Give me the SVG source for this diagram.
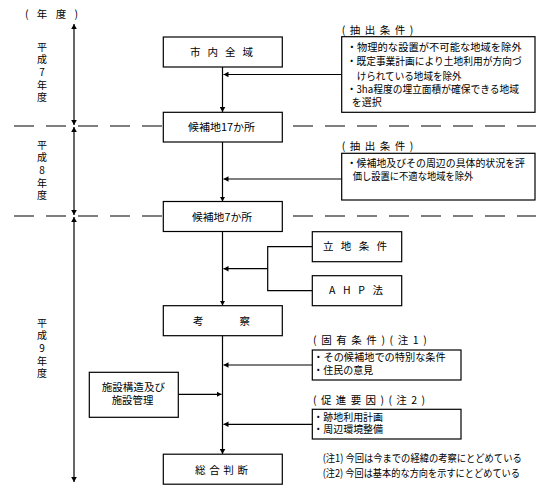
<svg xmlns="http://www.w3.org/2000/svg" width="560" height="499" viewBox="0 0 560 499">
<style>
text{font-family:"Noto Sans CJK JP","Noto Sans CJK SC",sans-serif;font-size:10.5px;fill:#000}
.y{font-size:10px;writing-mode:vertical-rl;text-orientation:upright;letter-spacing:2.6px}
.box{fill:#fff;stroke:#000;stroke-width:1.2}
.ln{fill:none;stroke:#000;stroke-width:1.2}
.dash{fill:none;stroke:#000;stroke-width:1.2;stroke-dasharray:20 12}
</style>
<defs>
<marker id="ae" markerUnits="userSpaceOnUse" markerWidth="6" markerHeight="6" refX="5" refY="3" orient="auto"><path d="M0,0.2 L5,3 L0,5.8 Z" fill="#000"/></marker>
<marker id="as" markerUnits="userSpaceOnUse" markerWidth="6" markerHeight="6" refX="0" refY="3" orient="auto"><path d="M5,0.2 L0,3 L5,5.8 Z" fill="#000"/></marker>
</defs>
<rect width="560" height="499" fill="#fff"/>
<g id="axis">
<text x="25" y="18" textLength="53" lengthAdjust="spacing">(年度)</text>
<line class="ln" x1="74" y1="24" x2="74" y2="125" marker-start="url(#as)" marker-end="url(#ae)"/>
<line class="ln" x1="74" y1="127" x2="74" y2="215" marker-start="url(#as)" marker-end="url(#ae)"/>
<line class="ln" x1="74" y1="217" x2="74" y2="482" marker-start="url(#as)" marker-end="url(#ae)"/>
<text x="42" y="42" class="y">平成7年度</text>
<text x="42" y="140" class="y">平成8年度</text>
<text x="42" y="318" class="y">平成9年度</text>
</g>
<g id="dividers">
<line class="dash" x1="14" y1="126" x2="163" y2="126"/>
<line class="dash" x1="293" y1="126" x2="536" y2="126"/>
<line class="dash" x1="14" y1="216" x2="163" y2="216"/>
<line class="dash" x1="293" y1="216" x2="536" y2="216"/>
</g>
<g id="connectors">
<line class="ln" x1="222.5" y1="67" x2="222.5" y2="112" marker-end="url(#ae)"/>
<line class="ln" x1="222.5" y1="142" x2="222.5" y2="201.5" marker-end="url(#ae)"/>
<line class="ln" x1="222.5" y1="231.5" x2="222.5" y2="305.5" marker-end="url(#ae)"/>
<line class="ln" x1="222.5" y1="335.5" x2="222.5" y2="454" marker-end="url(#ae)"/>
<line class="ln" x1="341.7" y1="74.5" x2="223.5" y2="74.5" marker-end="url(#ae)"/>
<line class="ln" x1="341.7" y1="179" x2="223.5" y2="179" marker-end="url(#ae)"/>
<line class="ln" x1="267.7" y1="268.7" x2="223.5" y2="268.7" marker-end="url(#ae)"/>
<polyline class="ln" points="312.3,246.7 267.7,246.7 267.7,290.7 312.3,290.7"/>
<line class="ln" x1="312.3" y1="365" x2="223.5" y2="365" marker-end="url(#ae)"/>
<line class="ln" x1="312.3" y1="424.3" x2="223.5" y2="424.3" marker-end="url(#ae)"/>
<line class="ln" x1="178.3" y1="394.3" x2="221.5" y2="394.3" marker-end="url(#ae)"/>
</g>
<g id="n1"><rect class="box" x="163.3" y="37" width="119" height="30"/><text x="190" y="56" textLength="63" lengthAdjust="spacing">市内全域</text></g>
<g id="n2"><rect class="box" x="163.3" y="112.3" width="119" height="29.7"/><text x="188" y="131" textLength="67" lengthAdjust="spacingAndGlyphs">候補地17か所</text></g>
<g id="n3"><rect class="box" x="163.3" y="201.5" width="119" height="30"/><text x="192" y="220.5" textLength="60" lengthAdjust="spacingAndGlyphs">候補地7か所</text></g>
<g id="n4"><rect class="box" x="163.3" y="305.7" width="119" height="30"/><text x="193" y="325" textLength="57" lengthAdjust="spacing">考察</text></g>
<g id="n5"><rect class="box" x="163.3" y="454.2" width="119" height="30"/><text x="195" y="473.5" textLength="53" lengthAdjust="spacing">総合判断</text></g>
<g id="c1">
<text x="341.7" y="34" textLength="71.6" lengthAdjust="spacing">(抽出条件)</text>
<rect class="box" x="341.7" y="36.7" width="193.3" height="75.6"/>
<text x="346.7" y="50.7" textLength="175" lengthAdjust="spacingAndGlyphs">・物理的な設置が不可能な地域を除外</text>
<text x="346.7" y="65" textLength="175" lengthAdjust="spacingAndGlyphs">・既定事業計画により土地利用が方向づ</text>
<text x="356.7" y="79.7" textLength="105" lengthAdjust="spacingAndGlyphs">けられている地域を除外</text>
<text x="346.7" y="93.3" textLength="172.3" lengthAdjust="spacingAndGlyphs">・3ha程度の埋立面積が確保できる地域</text>
<text x="351.7" y="105.7" textLength="30" lengthAdjust="spacingAndGlyphs">を選択</text>
</g>
<g id="c2">
<text x="341.7" y="150.3" textLength="71.6" lengthAdjust="spacing">(抽出条件)</text>
<rect class="box" x="341.7" y="153.3" width="193.3" height="46.7"/>
<text x="346.7" y="167" textLength="178.3" lengthAdjust="spacingAndGlyphs">・候補地及びその周辺の具体的状況を評</text>
<text x="352.7" y="180" textLength="120.6" lengthAdjust="spacingAndGlyphs">価し設置に不適な地域を除外</text>
</g>
<g id="n6"><rect class="box" x="312.3" y="231.7" width="89.4" height="30"/><text x="323" y="249.5" textLength="64" lengthAdjust="spacing">立地条件</text></g>
<g id="n7"><rect class="box" x="312.3" y="275.7" width="89.4" height="30"/><text x="329" y="293.5" textLength="54" lengthAdjust="spacing">AHP法</text></g>
<g id="c3">
<text x="313" y="344.3" textLength="113.7" lengthAdjust="spacing">(固有条件)(注1)</text>
<rect class="box" x="312.3" y="350" width="148.7" height="30"/>
<text x="313.3" y="360.7" textLength="132.4" lengthAdjust="spacingAndGlyphs">・その候補地での特別な条件</text>
<text x="313.3" y="374" textLength="60" lengthAdjust="spacingAndGlyphs">・住民の意見</text>
</g>
<g id="c4">
<text x="313" y="403.7" textLength="112" lengthAdjust="spacing">(促進要因)(注2)</text>
<rect class="box" x="312.3" y="409.3" width="148.7" height="29.7"/>
<text x="313.3" y="420.7" textLength="69.7" lengthAdjust="spacingAndGlyphs">・跡地利用計画</text>
<text x="313.3" y="433.3" textLength="69.7" lengthAdjust="spacingAndGlyphs">・周辺環境整備</text>
</g>
<g id="n8"><rect class="box" x="89.3" y="372.3" width="89" height="45"/>
<text x="101.7" y="390.7" textLength="63.3" lengthAdjust="spacingAndGlyphs">施設構造及び</text>
<text x="111.7" y="404" textLength="41.6" lengthAdjust="spacingAndGlyphs">施設管理</text>
</g>
<g id="notes">
<text x="322.7" y="462.3" textLength="199" lengthAdjust="spacingAndGlyphs">(注1) 今回は今までの経緯の考察にとどめている</text>
<text x="322.7" y="477.3" textLength="197.3" lengthAdjust="spacingAndGlyphs">(注2) 今回は基本的な方向を示すにとどめている</text>
</g>
</svg>
